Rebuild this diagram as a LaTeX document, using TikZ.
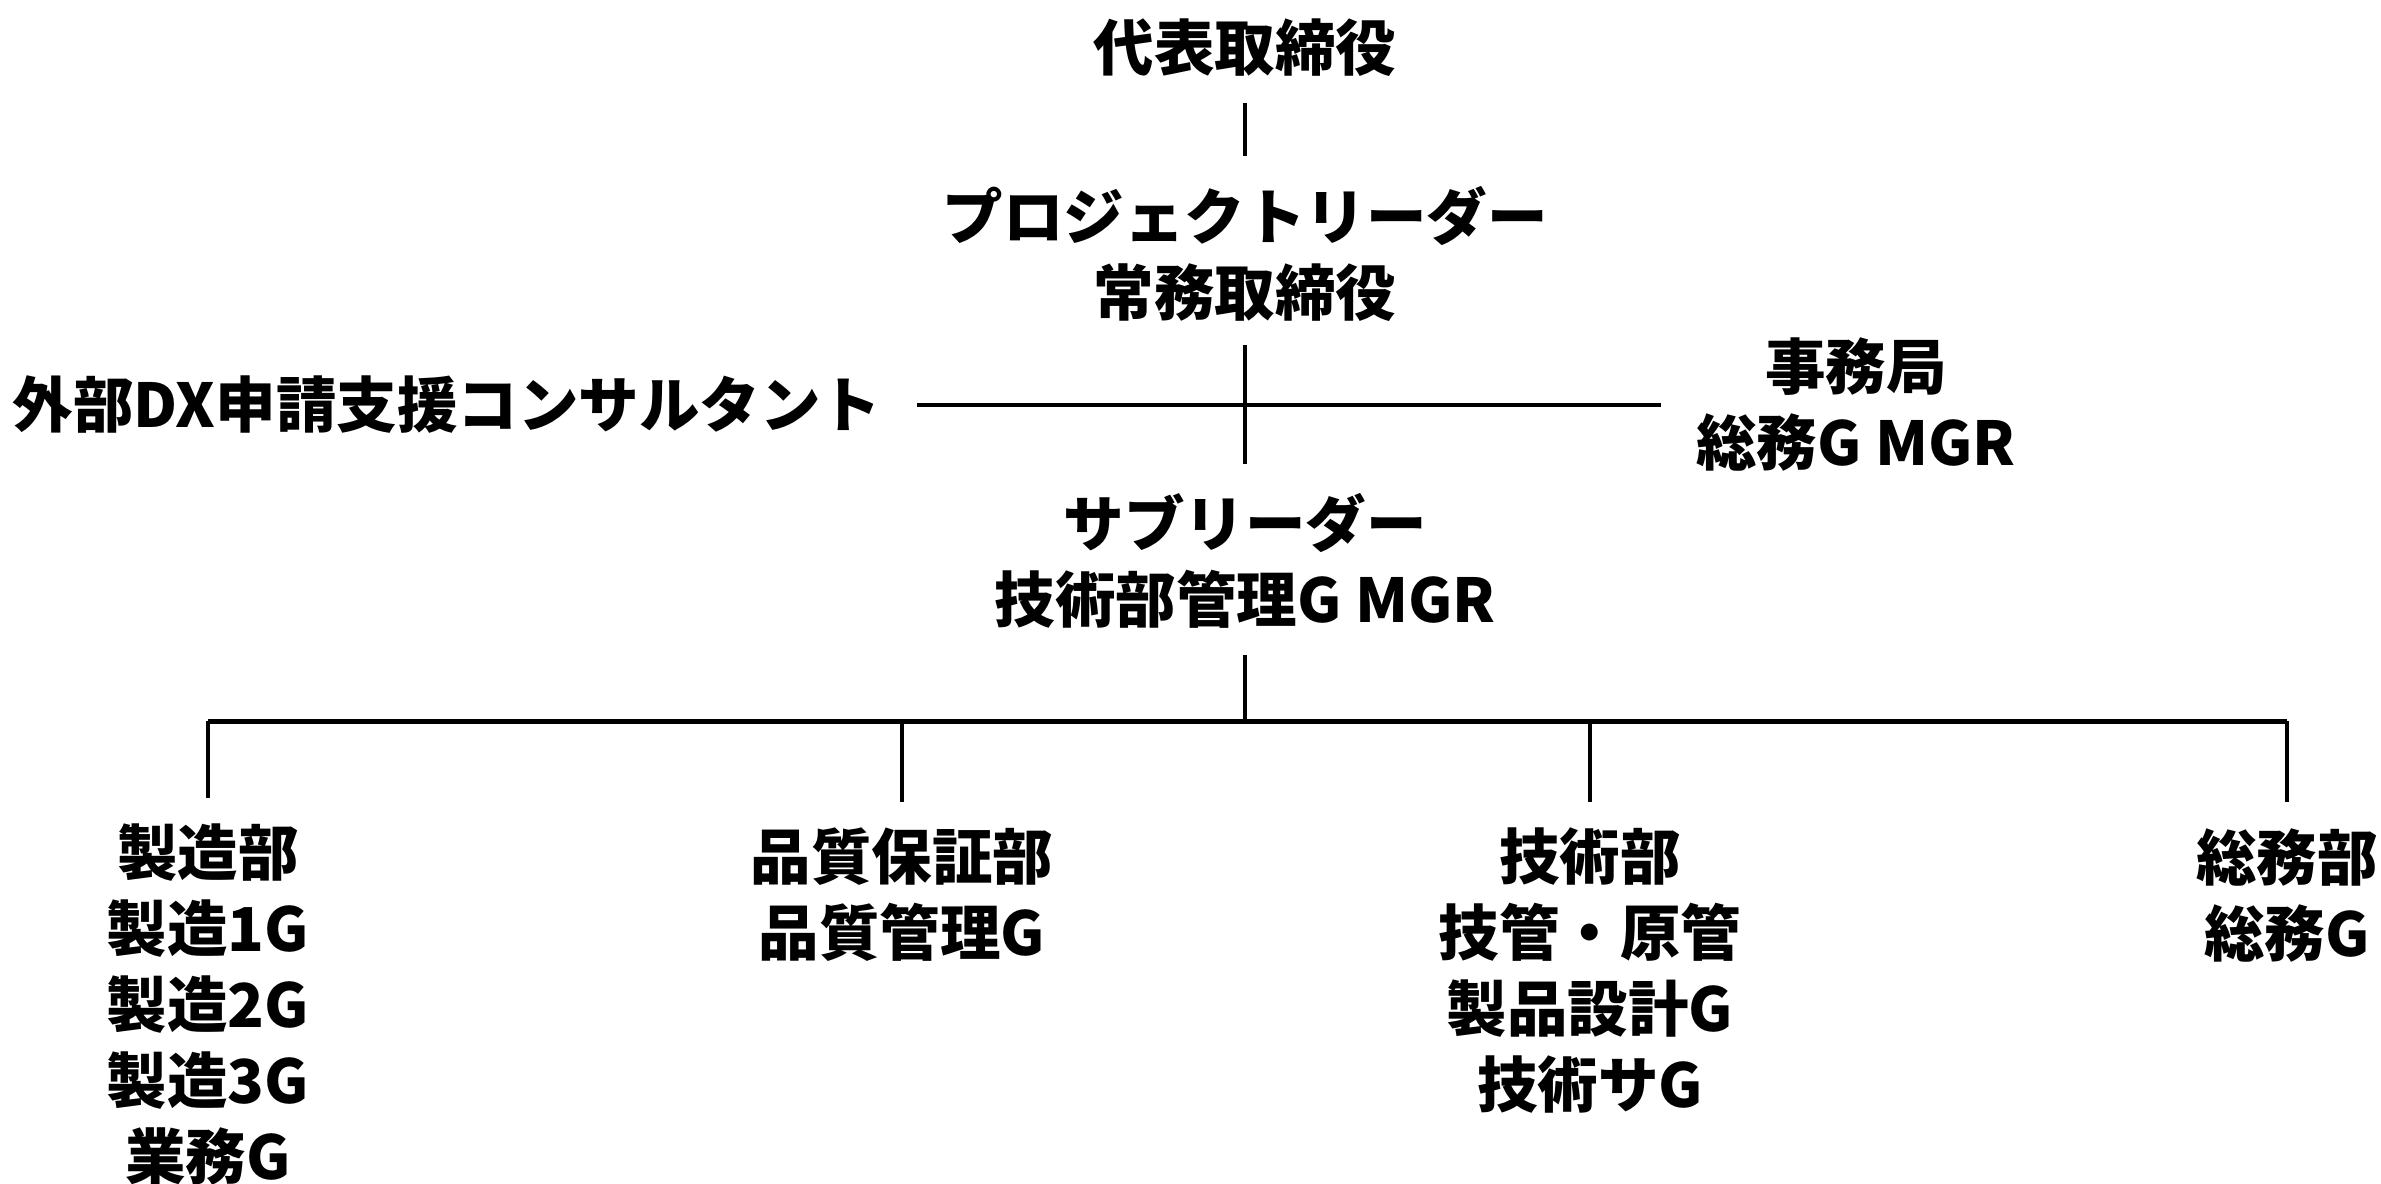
\documentclass[tikz,border=0pt]{standalone}
\usepackage{fontspec}
\newfontfamily\jp{Noto Sans CJK JP}
\begin{document}
\begin{tikzpicture}[x=1pt,y=-1pt,
  lab/.style={inner sep=0pt, outer sep=0pt, align=center,
    font=\fontsize{60.5}{76}\selectfont\jp\bfseries},
  ln/.style={line width=4.5pt},
  busline/.style={line width=5pt}]
\useasboundingbox (0,0) rectangle (2381,1183);
\node[lab] (ceo) at (1245,48) {代表取締役};
\node[lab] (pl) at (1245,254) {プロジェクトリーダー\\常務取締役};
\node[lab, anchor=east] (cons) at (881,405) {外部DX申請支援コンサルタント};
\node[lab] (jimu) at (1856,405) {事務局\\総務G MGR};
\node[lab] (sub) at (1245,561) {サブリーダー\\技術部管理G MGR};
\node[lab] (g1) at (208,1005) {製造部\\製造1G\\製造2G\\製造3G\\業務G};
\node[lab] (g2) at (902,895) {品質保証部\\品質管理G};
\node[lab] (g3) at (1590,971) {技術部\\技管・原管\\製品設計G\\技術サG};
\node[lab] (g4) at (2287,895) {総務部\\総務G};
\coordinate (bus) at (1245,721);
\draw[ln, shorten <=26pt, shorten >=30pt] (ceo) -- (pl);
\draw[ln, shorten <=23pt, shorten >=30pt] (pl) -- (sub);
\draw[ln, shorten <=36pt, shorten >=35pt] (cons.east) -- (jimu.west);
\draw[ln, shorten <=26pt] (sub) -- (bus);
\draw[busline] (g1.north |- bus) -- (g4.north |- bus);
\foreach \g in {g1,g2,g3,g4}
  \draw[ln, shorten >=26pt] (\g.north |- bus) -- (\g.north);
\end{tikzpicture}
\end{document}
